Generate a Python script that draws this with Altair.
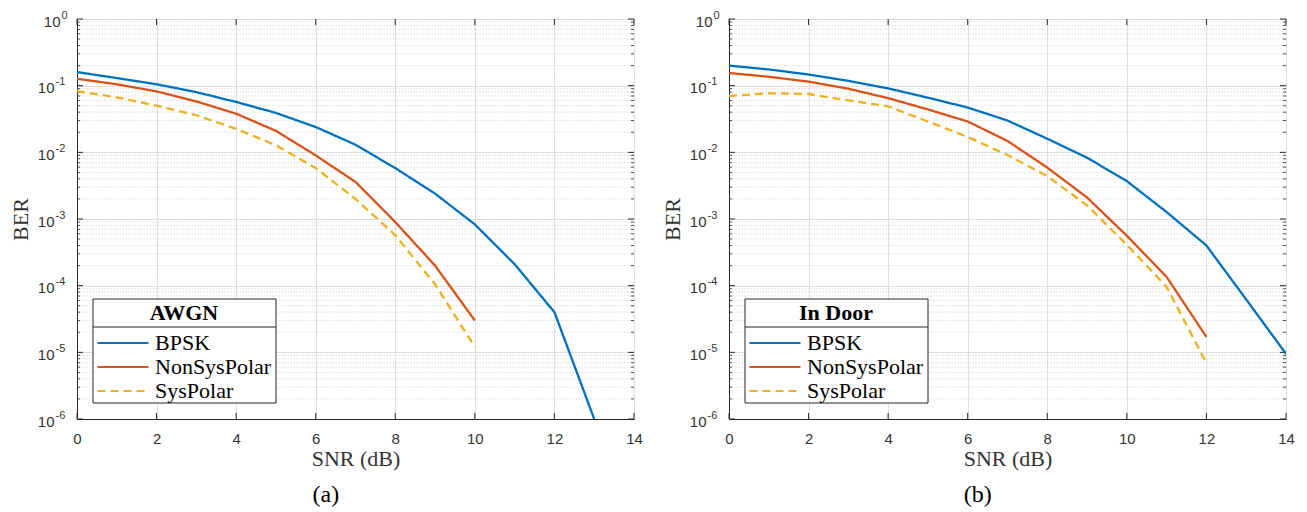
import altair as alt
import pandas as pd

# ---------------- data ----------------
series_names = ["BPSK", "NonSysPolar", "SysPolar"]
series_colors = ["#0072BD", "#D95319", "#EDB120"]

# (a) AWGN
snr_a_bpsk = [0, 1, 2, 3, 4, 5, 6, 7, 8, 9, 10, 11, 12, 13]
ber_a_bpsk = [0.16, 0.13, 0.105, 0.08, 0.057, 0.039, 0.024, 0.013, 0.0058, 0.0024, 0.00083, 0.00021, 0.00004, 0.000001]
snr_a_polar = [0, 1, 2, 3, 4, 5, 6, 7, 8, 9, 10]
ber_a_nonsys = [0.127, 0.105, 0.082, 0.058, 0.038, 0.021, 0.009, 0.0036, 0.0009, 0.0002, 0.00003]
ber_a_sys = [0.083, 0.067, 0.05, 0.036, 0.0225, 0.0128, 0.0058, 0.002, 0.00057, 0.000105, 0.000012]

# (b) In Door
snr_b_bpsk = [0, 1, 2, 3, 4, 5, 6, 7, 8, 9, 10, 11, 12, 13, 14]
ber_b_bpsk = [0.2, 0.175, 0.147, 0.118, 0.091, 0.066, 0.047, 0.030, 0.016, 0.0083, 0.0037, 0.00127, 0.0004, 0.000062, 0.0000095]
snr_b_polar = [0, 1, 2, 3, 4, 5, 6, 7, 8, 9, 10, 11, 12]
ber_b_nonsys = [0.155, 0.136, 0.115, 0.09, 0.065, 0.044, 0.029, 0.0148, 0.0059, 0.0021, 0.00056, 0.000135, 0.000017]
ber_b_sys = [0.07, 0.077, 0.075, 0.06, 0.049, 0.029, 0.017, 0.0091, 0.0044, 0.0016, 0.00041, 0.000096, 0.0000069]

x_ticks = [0, 2, 4, 6, 8, 10, 12, 14]
y_ticks = [1e-6, 1e-5, 1e-4, 1e-3, 1e-2, 1e-1, 1]
y_exponents = ["-6", "-5", "-4", "-3", "-2", "-1", "0"]
y_minor = [m * d for d in [1e-6, 1e-5, 1e-4, 1e-3, 1e-2, 1e-1] for m in range(2, 10)]

W, H = 557, 400
SANS = "Liberation Sans"
SERIF = "Liberation Serif"
INK = "#262626"
LBL = "#333333"

exp_expr = "[" + ",".join("'%s'" % e for e in y_exponents) + "][round(log(datum.value)/LN10)+6]"

XSCALE = alt.Scale(domain=[0, 14], nice=False, zero=False)
X = alt.X("snr:Q", scale=XSCALE,
          axis=alt.Axis(values=x_ticks, title="SNR (dB)", grid=True, gridColor="#dedede",
                        tickSize=0, labelPadding=12, labelFont=SANS, labelFontSize=15,
                        labelColor=LBL, titleFont=SERIF, titleFontSize=22,
                        titleFontWeight="normal", titleColor=LBL, titlePadding=2,
                        domainColor=INK, labelFlush=False))
YSCALE = alt.Scale(type="log", domain=[1e-6, 1], nice=False)
# main y axis: the "10" base of each label
Y = alt.Y("ber:Q", scale=YSCALE,
          axis=alt.Axis(orient="left", values=y_ticks, title="BER", grid=True, gridColor="#dedede",
                        tickSize=0, labelFont=SANS, labelFontSize=15, labelColor=LBL,
                        labelAlign="right", labelBaseline="middle", labelOffset=2,
                        labelPadding={"condition": {"test": "datum.value >= 0.5", "value": 17}, "value": 23},
                        titleFont=SERIF, titleFontSize=22, titleFontWeight="normal",
                        titleColor=LBL, titlePadding=5, domainColor=INK,
                        labelExpr="'10'"))
# second y axis on the same side: the superscript exponents
Y_EXP = alt.Y("ber:Q", scale=YSCALE,
              axis=alt.Axis(orient="left", values=y_ticks, title=None, grid=False, domain=False,
                            ticks=False, labelFont=SANS, labelFontSize=11, labelColor=LBL,
                            labelAlign="left", labelBaseline="middle", labelOffset=-4,
                            labelPadding={"condition": {"test": "datum.value >= 0.5", "value": 16}, "value": 22},
                            labelExpr=exp_expr))
Y_NOAX = alt.Y("ber:Q", scale=YSCALE, axis=None)


def make_df(snr_bpsk, bpsk, snr_polar, nonsys, sys_):
    rows = []
    for s, v in zip(snr_bpsk, bpsk):
        rows.append({"snr": s, "ber": v, "series": "BPSK"})
    for s, v in zip(snr_polar, nonsys):
        rows.append({"snr": s, "ber": v, "series": "NonSysPolar"})
    for s, v in zip(snr_polar, sys_):
        rows.append({"snr": s, "ber": v, "series": "SysPolar"})
    return pd.DataFrame(rows)


def panel(df, legend_title, caption):
    legend = alt.Legend(title=legend_title, orient="none", legendX=19, legendY=284,
                        titleFont=SERIF, titleFontSize=22, titleFontWeight="bold",
                        titleColor="#000000", titleAnchor="middle", titlePadding=6,
                        labelFont=SERIF, labelFontSize=22, labelColor="#000000",
                        symbolType="stroke", symbolSize=2601, symbolStrokeWidth=2.2,
                        clipHeight=24, labelOffset=5, rowPadding=0, padding=0)
    lines = alt.Chart(df).mark_line(strokeWidth=2.3, clip=True).encode(
        x=X, y=Y,
        color=alt.Color("series:N", scale=alt.Scale(domain=series_names, range=series_colors),
                        legend=legend),
        strokeDash=alt.StrokeDash("series:N",
                                  scale=alt.Scale(domain=series_names, range=[[1, 0], [1, 0], [8, 5]]),
                                  legend=legend),
    )
    minor_df = pd.DataFrame({"ber": y_minor})
    major_df = pd.DataFrame({"ber": y_ticks})
    xt_df = pd.DataFrame({"snr": x_ticks})
    exp_layer = alt.Chart(major_df).mark_rule(opacity=0).encode(y=Y_EXP)
    minor_grid = alt.Chart(minor_df).mark_rule(color="#d6d6d6", strokeWidth=0.8, strokeDash=[1.5, 1.5]).encode(y=Y_NOAX)
    ymaj_l = alt.Chart(major_df).mark_rule(color=INK, strokeWidth=1).encode(y=Y_NOAX, x=alt.value(0), x2=alt.value(6))
    ymaj_r = alt.Chart(major_df).mark_rule(color=INK, strokeWidth=1).encode(y=Y_NOAX, x=alt.value(W - 6), x2=alt.value(W))
    ymin_l = alt.Chart(minor_df).mark_rule(color=INK, strokeWidth=0.8).encode(y=Y_NOAX, x=alt.value(0), x2=alt.value(3))
    ymin_r = alt.Chart(minor_df).mark_rule(color=INK, strokeWidth=0.8).encode(y=Y_NOAX, x=alt.value(W - 3), x2=alt.value(W))
    xt_b = alt.Chart(xt_df).mark_rule(color=INK, strokeWidth=1).encode(x=X, y=alt.value(H - 6), y2=alt.value(H))
    xt_t = alt.Chart(xt_df).mark_rule(color=INK, strokeWidth=1).encode(x=X, y=alt.value(0), y2=alt.value(6))
    one = pd.DataFrame({"k": [0]})
    box = alt.Chart(one).mark_rect(fill="white", stroke=INK, strokeWidth=1).encode(
        x=alt.value(16), x2=alt.value(199), y=alt.value(280), y2=alt.value(384))
    divider = alt.Chart(one).mark_rule(color=INK, strokeWidth=1).encode(
        x=alt.value(16), x2=alt.value(199), y=alt.value(308))
    return alt.layer(exp_layer, minor_grid, ymaj_l, ymaj_r, ymin_l, ymin_r, xt_b, xt_t, box, divider, lines).resolve_axis(
        y="independent").properties(
        width=W, height=H,
        title=alt.TitleParams(text=caption, orient="bottom", font=SERIF, fontSize=24,
                              fontWeight="normal", color="#000000", anchor="middle",
                              frame="bounds", offset=14),
    )


left = panel(make_df(snr_a_bpsk, ber_a_bpsk, snr_a_polar, ber_a_nonsys, ber_a_sys), "AWGN", "(a)")
right = panel(make_df(snr_b_bpsk, ber_b_bpsk, snr_b_polar, ber_b_nonsys, ber_b_sys), "In Door", "(b)")

chart = alt.hconcat(left, right, spacing=17).resolve_scale(color="independent", strokeDash="independent").properties(
    padding={"left": 0, "top": 0, "right": 0, "bottom": 0}
).configure_view(stroke=INK, strokeWidth=1).configure(background="white")

chart.save("out.html", embed_options={"renderer": "svg", "actions": False})
